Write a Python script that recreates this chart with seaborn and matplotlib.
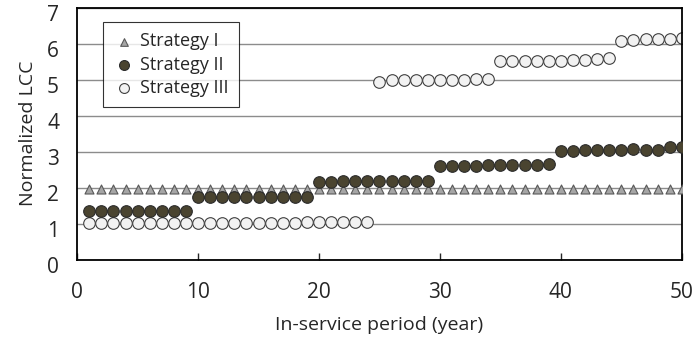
import matplotlib
matplotlib.use("Agg")
import matplotlib.pyplot as plt
import matplotlib.transforms as mtransforms
import seaborn as sns
import numpy as np
import pandas as pd

sns.set_style("white")
plt.rcParams['font.family'] = ['Open Sans', 'DejaVu Sans']

# in-service year
years = list(range(1, 51))

# normalized LCC
strategy_1 = [1.97] * 50
strategy_2 = ([1.36] * 9 + [1.74] * 10 +
              [2.16, 2.16, 2.18, 2.18, 2.18, 2.18, 2.18, 2.18, 2.18, 2.18] +
              [2.60, 2.60, 2.60, 2.60, 2.62, 2.62, 2.62, 2.62, 2.62, 2.66] +
              [3.02, 3.02, 3.06, 3.06, 3.06, 3.06, 3.08, 3.06, 3.06, 3.14, 3.14])
strategy_3 = ([1.02] * 18 + [1.04] * 6 +
              [4.93, 4.99, 4.99, 4.99, 4.99, 4.99, 4.99, 4.99, 5.01, 5.01] +
              [5.51, 5.53, 5.53, 5.53, 5.53, 5.53, 5.55, 5.55, 5.57, 5.60] +
              [6.07, 6.09, 6.13, 6.13, 6.13, 6.15])

names = ["Strategy I", "Strategy II", "Strategy III"]
values = [strategy_1, strategy_2, strategy_3]

styles = {
    "Strategy I": dict(marker="^", s=42, color="#a6a6a6", edgecolor="#595959", linewidth=0.8, zorder=3),
    "Strategy II": dict(marker="o", s=70, color="#4a4430", edgecolor="#2b2b2b", linewidth=0.8, zorder=4),
    "Strategy III": dict(marker="o", s=70, color="#f2f2f2", edgecolor="#404040", linewidth=0.8, zorder=2),
}

fig, ax = plt.subplots(figsize=(6.95, 3.42), dpi=100)
fig.subplots_adjust(left=0.111, right=0.981, bottom=0.24, top=0.978)

for name, vals in zip(names, values):
    df = pd.DataFrame({"year": years, "lcc": vals})
    sns.scatterplot(data=df, x="year", y="lcc", ax=ax, label=name, **styles[name])

ax.set_xlim(0, 50)
ax.set_ylim(0, 7)
ax.set_xticks(range(0, 51, 10))
ax.set_yticks(range(0, 8))
ax.yaxis.grid(True, color="#8c8c8c", linewidth=1)
ax.set_axisbelow(True)

for sp in ax.spines.values():
    sp.set_color("black")
    sp.set_linewidth(1.3)

ax.tick_params(axis="x", direction="in", length=5, width=1, labelsize=15, pad=16, bottom=True)
ax.tick_params(axis="y", length=0, labelsize=15, pad=13)

# y labels sit a little below their gridlines, like the original
shift = mtransforms.ScaledTranslation(0, -4 / 72, fig.dpi_scale_trans)
for lbl in ax.get_yticklabels():
    lbl.set_transform(lbl.get_transform() + shift)

ax.set_xlabel("In-service period (year)", fontsize=14, labelpad=9)
ax.set_ylabel("Normalized LCC", fontsize=14, labelpad=7)

leg = ax.legend(loc="upper left", bbox_to_anchor=(0.043, 0.941), borderaxespad=0,
                fontsize=13, frameon=True, fancybox=False, edgecolor="black",
                handletextpad=0.3, borderpad=0.55, labelspacing=0.3,
                handlelength=1.2, markerscale=0.85)
leg.get_frame().set_linewidth(0.8)

fig.savefig("out.png", dpi=100)
